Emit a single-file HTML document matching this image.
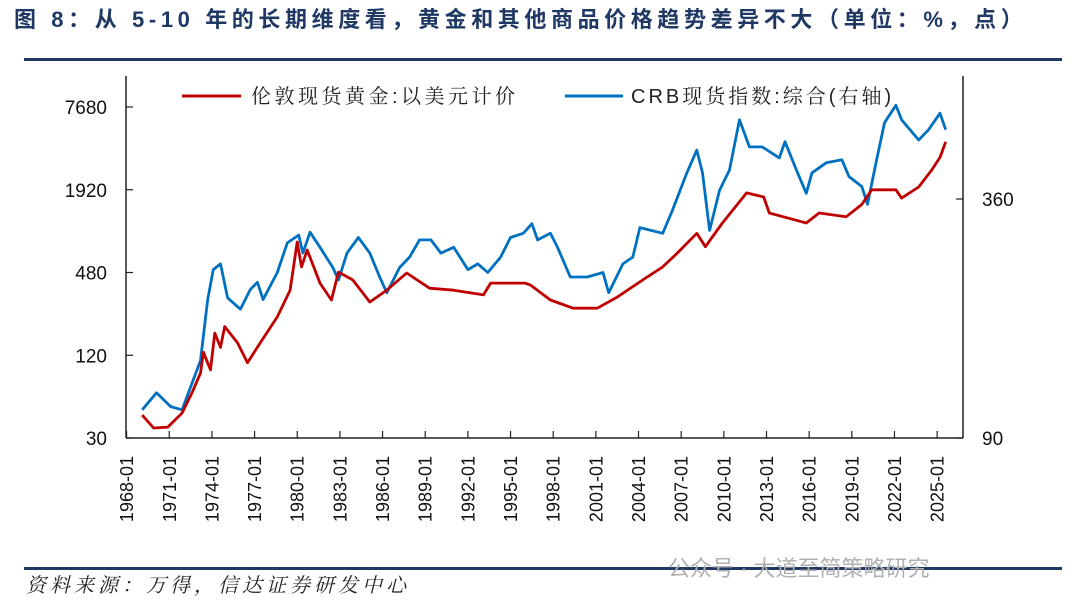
<!DOCTYPE html>
<html><head><meta charset="utf-8">
<style>
html,body{margin:0;padding:0;background:#fff;}
body{width:1080px;height:609px;overflow:hidden;position:relative;font-family:"Liberation Sans","Noto Sans CJK SC",sans-serif;}
svg{position:absolute;left:0;top:0;}
</style></head>
<body>
<svg id="chart" width="1080" height="609" viewBox="0 0 1080 609">
  <text x="14" y="27" font-size="22" font-weight="bold" letter-spacing="4.6" fill="#1f3864" font-family="'Liberation Sans','Noto Sans CJK SC',sans-serif">图 8：从 5-10 年的长期维度看，黄金和其他商品价格趋势差异不大（单位：%，点）</text>
  <rect x="24" y="58" width="1038" height="3" fill="#1f3864"/>
  <g>
    <line x1="182" y1="96" x2="241" y2="96" stroke="#c00000" stroke-width="3"/>
    <text x="251" y="103" font-size="20" letter-spacing="3.5" fill="#222" font-family="'Liberation Sans','Noto Serif CJK SC',serif">伦敦现货黄金:以美元计价</text>
    <line x1="565" y1="96" x2="623" y2="96" stroke="#0070c0" stroke-width="3"/>
    <text x="631" y="103" font-size="20" letter-spacing="3" fill="#222" font-family="'Liberation Sans','Noto Serif CJK SC',serif">CRB现货指数:综合(右轴)</text>
  </g>
  <g id="axes"></g>
  <g id="series"></g>
  <rect x="24" y="567" width="1038" height="3" fill="#1f3864"/>
  <text x="26" y="592" font-size="20" letter-spacing="4" font-style="italic" fill="#222" font-family="'Liberation Serif','Noto Serif CJK SC',serif">资料来源：万得，信达证券研发中心</text>
  <text x="668" y="576" font-size="22" fill="#b0b0b0" font-family="'Liberation Sans','Noto Sans CJK SC',sans-serif">公众号 · 大道至简策略研究</text>
</svg>
<script>
const goldYears = [1969.1,1969.9,1970.9,1971.9,1972.6,1973.2,1973.4,1973.9,1974.2,1974.6,1974.9,1975.8,1976.5,1977.4,1978.6,1979.5,1980.0,1980.3,1980.7,1981.6,1982.4,1982.9,1983.9,1985.1,1986.3,1987.7,1989.3,1991.0,1993.1,1993.6,1996.0,1996.4,1997.8,1999.4,2001.1,2002.5,2004.3,2005.7,2006.7,2008.1,2008.7,2009.9,2011.6,2012.8,2013.2,2015.1,2015.8,2016.7,2018.6,2019.7,2020.4,2022.1,2022.5,2023.7,2024.6,2025.2,2025.6];
const goldValues = [44,35.5,36,45.6,64,89,126,94,174,137,194,148,106,148,228,357,800,527,700,402,303,483,424,293,357,476,369,357,330,402,402,389,303,264,264,318,424,527,660,925,740,1100,1820,1700,1300,1150,1100,1300,1220,1500,1920,1920,1670,2010,2660,3300,4280];
const crbYears = [1969.1,1970.1,1971.1,1971.9,1972.5,1973.2,1973.7,1974.1,1974.6,1975.1,1976.0,1976.7,1977.2,1977.6,1978.6,1979.3,1980.1,1980.4,1980.9,1981.6,1982.5,1982.9,1983.5,1984.3,1985.1,1985.8,1986.3,1987.2,1987.9,1988.6,1989.4,1990.1,1991.0,1992.0,1992.7,1993.4,1994.3,1995.0,1995.9,1996.5,1996.9,1997.8,1998.3,1999.2,2000.4,2001.5,2001.9,2002.9,2003.6,2004.1,2005.7,2006.4,2007.4,2008.1,2008.5,2009.0,2009.7,2010.4,2011.1,2011.8,2012.7,2013.9,2014.3,2015.1,2015.8,2016.2,2017.2,2018.3,2018.8,2019.7,2020.1,2020.7,2021.3,2022.1,2022.5,2023.7,2024.4,2025.2,2025.6];
const crbValues = [106,117,108,106,121,141,201,239,247,203,190,213,222,201,235,279,292,263,297,272,242,225,263,288,263,229,209,242,257,284,284,263,272,239,247,235,257,288,295,312,284,295,272,229,229,235,209,247,257,305,295,338,419,478,419,300,379,426,570,487,487,457,502,426,372,419,444,452,410,387,349,444,560,620,570,507,538,592,538];
const xTickYears = [1968,1971,1974,1977,1980,1983,1986,1989,1992,1995,1998,2001,2004,2007,2010,2013,2016,2019,2022,2025];
const leftTicks = [30,120,480,1920,7680];
const rightTicks = [90,360];

const NS = "http://www.w3.org/2000/svg";
const X0 = 126.6, PXY = 14.22, BOTTOM = 438;
function xScale(yr){ return X0 + (yr - 1968) * PXY; }
function yLeft(v){ return BOTTOM - Math.log(v / 30) / Math.log(4) * 82.75; }
function yRight(v){ return BOTTOM - Math.log(v / 90) / Math.log(4) * 239; }
function mk(tag, attrs, parent){ const e = document.createElementNS(NS, tag); for (const k in attrs) e.setAttribute(k, attrs[k]); parent.appendChild(e); return e; }

const axes = document.getElementById('axes');
const series = document.getElementById('series');

const la = mk('line', {x1:126, y1:76, x2:126, y2:BOTTOM, stroke:'#222', 'stroke-width':1.5}, axes);


const ra = mk('line', {x1:963, y1:76, x2:963, y2:BOTTOM, stroke:'#222', 'stroke-width':1.5}, axes);


const xa = mk('line', {x1:126, y1:BOTTOM, x2:963, y2:BOTTOM, stroke:'#222', 'stroke-width':1.5}, axes);



leftTicks.forEach(v => {
  const y = yLeft(v);
  const t = mk('line', {x1:126, y1:y, x2:133, y2:y, stroke:'#222', 'stroke-width':1.2}, axes);
  
  
  const l = mk('text', {x:107, y:y + 7, 'font-size':19, 'text-anchor':'end', fill:'#111'}, axes);
  l.textContent = v;
  
  
});
rightTicks.forEach(v => {
  const y = yRight(v);
  const t = mk('line', {x1:956, y1:y, x2:963, y2:y, stroke:'#222', 'stroke-width':1.2}, axes);
  
  
  const l = mk('text', {x:982, y:y + 7, 'font-size':19, fill:'#111'}, axes);
  l.textContent = v;
  
  
});
xTickYears.forEach(yr => {
  const x = xScale(yr);
  const t = mk('line', {x1:x, y1:BOTTOM, x2:x, y2:BOTTOM - 7, stroke:'#222', 'stroke-width':1.2}, axes);
  
  
  const l = mk('text', {x:0, y:0, 'font-size':18, 'text-anchor':'end', fill:'#111', transform:'translate(' + (x + 6.5) + ',456) rotate(-90)'}, axes);
  l.textContent = yr + '-01';
  
  
});

const gp = goldYears.map((yr, i) => (i ? 'L' : 'M') + xScale(yr).toFixed(1) + ',' + yLeft(goldValues[i]).toFixed(1)).join(' ');
const cp = crbYears.map((yr, i) => (i ? 'L' : 'M') + xScale(yr).toFixed(1) + ',' + yRight(crbValues[i]).toFixed(1)).join(' ');
const cl = mk('path', {d:cp, fill:'none', stroke:'#0070c0', 'stroke-width':2.8, 'stroke-linejoin':'round'}, series);


const gl = mk('path', {d:gp, fill:'none', stroke:'#c00000', 'stroke-width':2.8, 'stroke-linejoin':'round'}, series);


</script>
</body></html>
